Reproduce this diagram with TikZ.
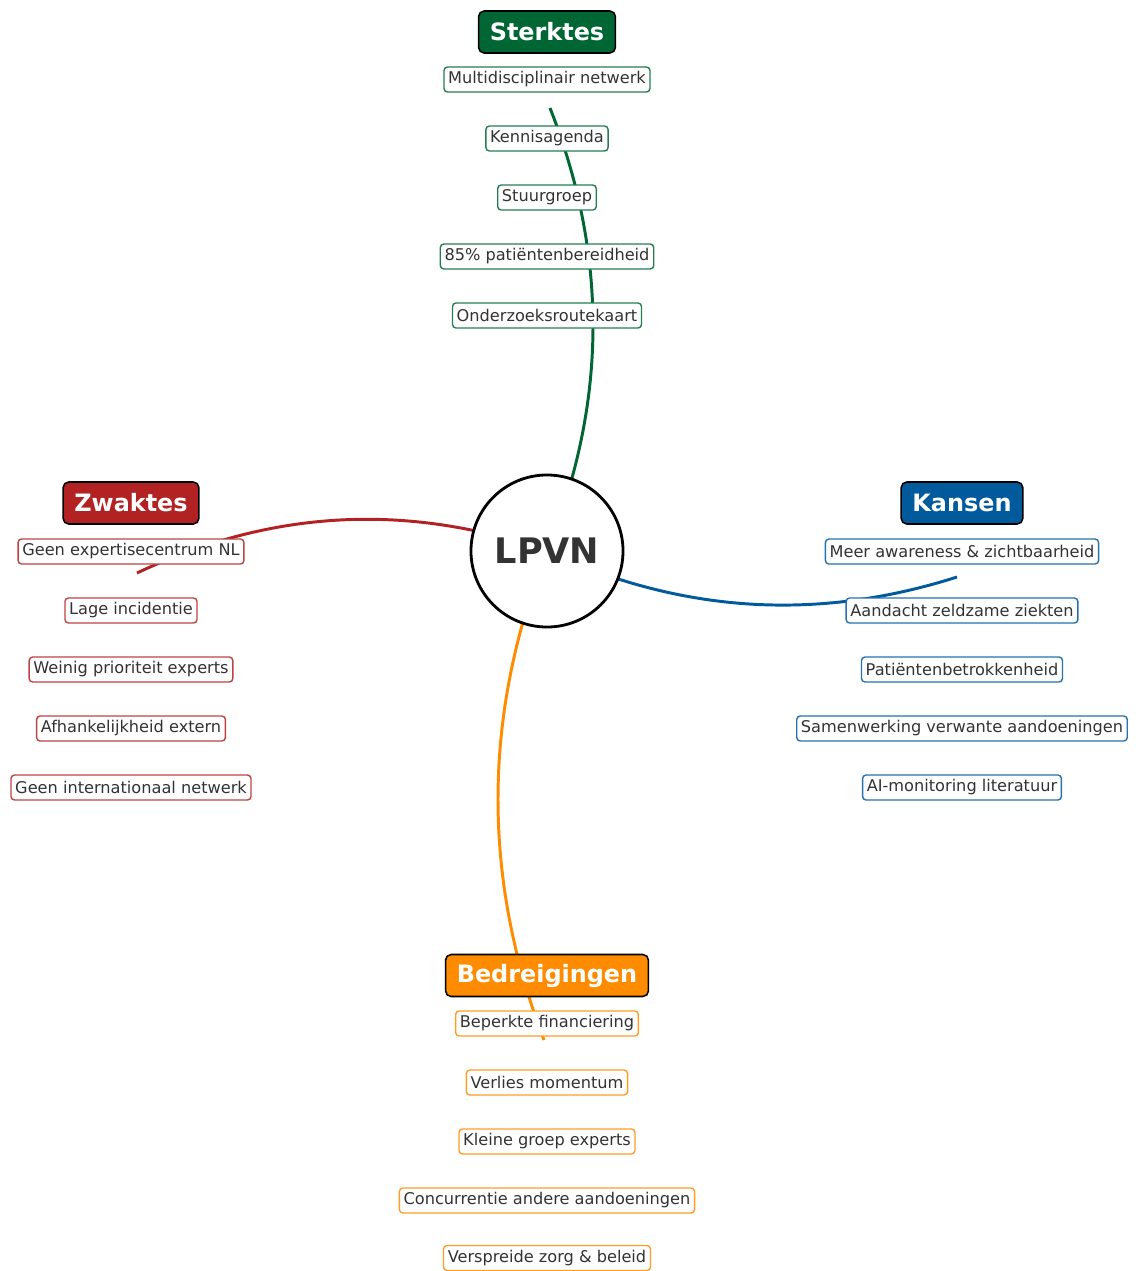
\documentclass[tikz,border=0pt]{standalone}
\usepackage{fontspec}
\setmainfont{DejaVu Sans}
\usepackage{tikz}
\usetikzlibrary{backgrounds}
\definecolor{swottext}{HTML}{333333}
\definecolor{swotGreen}{HTML}{006633}
\definecolor{swotRed}{HTML}{B22222}
\definecolor{swotBlue}{HTML}{005A9C}
\definecolor{swotOrange}{HTML}{FF8C00}
\newcommand{\SwotItemFont}{\fontsize{11.5}{13}\selectfont}
\newcommand{\SwotHubFont}{\fontsize{17}{19}\selectfont\bfseries}
\tikzset{
  swot core/.style={
    circle,
    draw=black,
    fill=white,
    line width=2pt,
    minimum size=3.8cm,
    inner sep=0pt,
    text=swottext,
    font=\fontsize{25}{28}\selectfont\bfseries
  },
  swot hub/.style={
    rounded corners=4pt,
    draw=black,
    line width=1.1pt,
    text=white,
    minimum height=1.05cm,
    inner xsep=8pt,
    inner ysep=0pt,
    font=\SwotHubFont,
    fill=#1
  },
  swot item/.style={
    rounded corners=2.5pt,
    draw=#1!85,
    fill=white,
    line width=1pt,
    text=swottext,
    minimum height=0.625cm,
    inner xsep=3pt,
    inner ysep=0pt,
    font=\SwotItemFont
  },
  swot edge/.style={
    line width=2.1pt,
    draw=#1
  }
}

\begin{document}
\begin{tikzpicture}[x=0.025cm,y=-0.025cm]
\useasboundingbox (0,0) rectangle (1138,1271);

\node[swot core] (lpvn) at (547,551) {LPVN};

% sterktes
\node[swot hub=swotGreen] (sterktes) at (547,32) {Sterktes};
\node[swot item=swotGreen] (s1) at (547,79.5) {Multidisciplinair netwerk};
\node[swot item=swotGreen] (s2) at (547,138.5) {Kennisagenda};
\node[swot item=swotGreen] (s3) at (547,197.5) {Stuurgroep};
\node[swot item=swotGreen] (s4) at (547,256.5) {85\% patiëntenbereidheid};
\node[swot item=swotGreen] (s5) at (547,315.5) {Onderzoeksroutekaart};

% zwaktes
\node[swot hub=swotRed] (zwaktes) at (131,503) {Zwaktes};
\node[swot item=swotRed] (w1) at (131,551.5) {Geen expertisecentrum NL};
\node[swot item=swotRed] (w2) at (131,610.5) {Lage incidentie};
\node[swot item=swotRed] (w3) at (131,669.5) {Weinig prioriteit experts};
\node[swot item=swotRed] (w4) at (131,728.5) {Afhankelijkheid extern};
\node[swot item=swotRed] (w5) at (131,787.5) {Geen internationaal netwerk};

% kansen
\node[swot hub=swotBlue] (kansen) at (962,503) {Kansen};
\node[swot item=swotBlue] (k1) at (962,551.5) {Meer awareness \& zichtbaarheid};
\node[swot item=swotBlue] (k2) at (962,610.5) {Aandacht zeldzame ziekten};
\node[swot item=swotBlue] (k3) at (962,669.5) {Patiëntenbetrokkenheid};
\node[swot item=swotBlue] (k4) at (962,728.5) {Samenwerking verwante aandoeningen};
\node[swot item=swotBlue] (k5) at (962,787.5) {AI-monitoring literatuur};

% bedreigingen
\node[swot hub=swotOrange] (bedreigingen) at (547,975.5) {Bedreigingen};
\node[swot item=swotOrange] (b1) at (547,1023.5) {Beperkte financiering};
\node[swot item=swotOrange] (b2) at (547,1082.5) {Verlies momentum};
\node[swot item=swotOrange] (b3) at (547,1141.5) {Kleine groep experts};
\node[swot item=swotOrange] (b4) at (547,1200.5) {Concurrentie andere aandoeningen};
\node[swot item=swotOrange] (b5) at (547,1258) {Verspreide zorg \& beleid};

% loose ends of the branches
\coordinate (sterktes end) at (550,108);
\coordinate (zwaktes end) at (137,573);
\coordinate (kansen end) at (957,577);
\coordinate (bedreigingen end) at (544,1040);

\begin{scope}[on background layer]
  \draw[swot edge=swotGreen] (lpvn.center)
    .. controls (607.3,403.3) and (608.3,255.7) .. (sterktes end);
  \draw[swot edge=swotRed] (lpvn.center)
    .. controls (407.3,502.3) and (270.7,509.7) .. (zwaktes end);
  \draw[swot edge=swotBlue] (lpvn.center)
    .. controls (680.3,613) and (817,621.7) .. (kansen end);
  \draw[swot edge=swotOrange] (lpvn.center)
    .. controls (482.7,714) and (481.7,877) .. (bedreigingen end);
\end{scope}
\end{tikzpicture}
\end{document}
